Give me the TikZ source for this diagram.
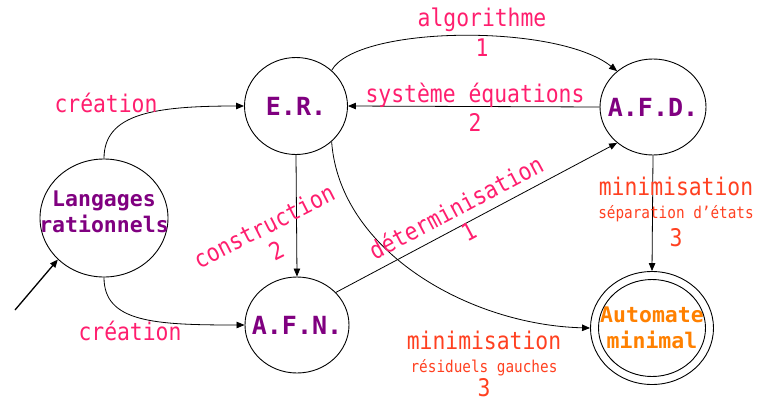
\documentclass[tikz,border=0pt]{standalone}
\usepackage{fontspec}
\setmonofont{DejaVu Sans Mono}
\newfontfamily\lblfont{DejaVu Sans Mono}[FakeStretch=0.88]
\usetikzlibrary{shapes.geometric,arrows.meta}
\definecolor{lblpink}{RGB}{255,30,110}
\definecolor{nodepurple}{RGB}{128,0,128}
\definecolor{minred}{RGB}{255,64,32}
\definecolor{autoorange}{RGB}{255,128,0}
\tikzset{
  state/.style={draw=black, line width=0.9pt, ellipse, inner sep=0pt},
  sname/.style={text=nodepurple, inner sep=0pt, align=center,
    font=\ttfamily\bfseries\fontsize{25}{30}\selectfont},
  lname/.style={sname, font=\ttfamily\bfseries\fontsize{21.5}{26}\selectfont},
  lbl/.style={text=lblpink, inner sep=0pt, font=\lblfont\fontsize{24.3}{27}\selectfont},
  minlbl/.style={text=minred, inner sep=0pt, font=\lblfont\fontsize{24.3}{27}\selectfont},
  minsmall/.style={text=minred, inner sep=0pt, font=\lblfont\fontsize{16.3}{18}\selectfont},
  edge/.style={draw=black, line width=0.8pt, -{Triangle[length=8pt,width=6.5pt]}},
}
\begin{document}
\begin{tikzpicture}[x=1pt, y=-1pt]
\useasboundingbox (0,0) rectangle (760,402);

% states: fixed-size ellipses, names set as centred labels
\node[state, minimum width=128pt, minimum height=118pt,
  label={[lname, yshift=6pt]center:Langages\\rationnels}] (lang) at (104,218) {};
\node[state, minimum width=103pt, minimum height=97pt,
  label={[sname]center:E.R.}] (er) at (296,106) {};
\node[state, minimum width=106pt, minimum height=96pt,
  label={[sname]center:A.F.D.}] (afd) at (653,107) {};
\node[state, minimum width=104pt, minimum height=96pt,
  label={[sname]center:A.F.N.}] (afn) at (297,325) {};
\node[state, minimum width=123pt, minimum height=113pt,
  label={[lname, text=autoorange]center:Automate\\minimal}] (am) at (652,328) {};
\draw[line width=0.9pt] (am.center) ellipse (53.5pt and 48.5pt);

% initial arrow
\coordinate (init) at (15,310);
\draw[edge, line width=1.3pt] (init) -- (lang.222);

% transitions
\draw[edge] (lang.north) .. controls +(0,-45) and +(-90,0) .. (er.west);
\draw[edge] (lang.south) .. controls +(0,45) and +(-90,0) .. (afn.west);
\draw[edge] (er.45) .. controls +(25,-45) and +(-60,-48) .. (afd.135);
\draw[edge] (afd.west) -- (er.east);
\draw[edge] (er.south) -- (afn.north);
\draw[edge] (afn.40) -- (afd.225);
\draw[edge] (er.-45) .. controls +(8,110) and +(-120,-3) .. (am.west);
\draw[edge] (afd.south) -- (am.north);

% labels
\node[lbl] (l1) at (106,103) {création};
\node[lbl] (l2) at (130,331) {création};
\node[lbl] (l3) at (482,20) {algorithme};
\node[lbl] (l3n) at (482,48) {1};
\node[lbl] (l4) at (475,95) {système équations};
\node[lbl] (l4n) at (475,122) {2};
\node[lbl, align=center, rotate=27] (l5) at (270,238) {construction\\2};
\node[lbl, align=center, rotate=28] (l6) at (462,219) {déterminisation\\1};
\node[minlbl] (m1) at (676,186) {minimisation};
\node[minsmall] (m1s) at (676,214) {séparation d’états};
\node[minlbl] (m1n) at (676,238) {3};
\node[minlbl] (m2) at (484,340) {minimisation};
\node[minsmall] (m2s) at (484,368) {résiduels gauches};
\node[minlbl] (m2n) at (484,388) {3};
\end{tikzpicture}
\end{document}
